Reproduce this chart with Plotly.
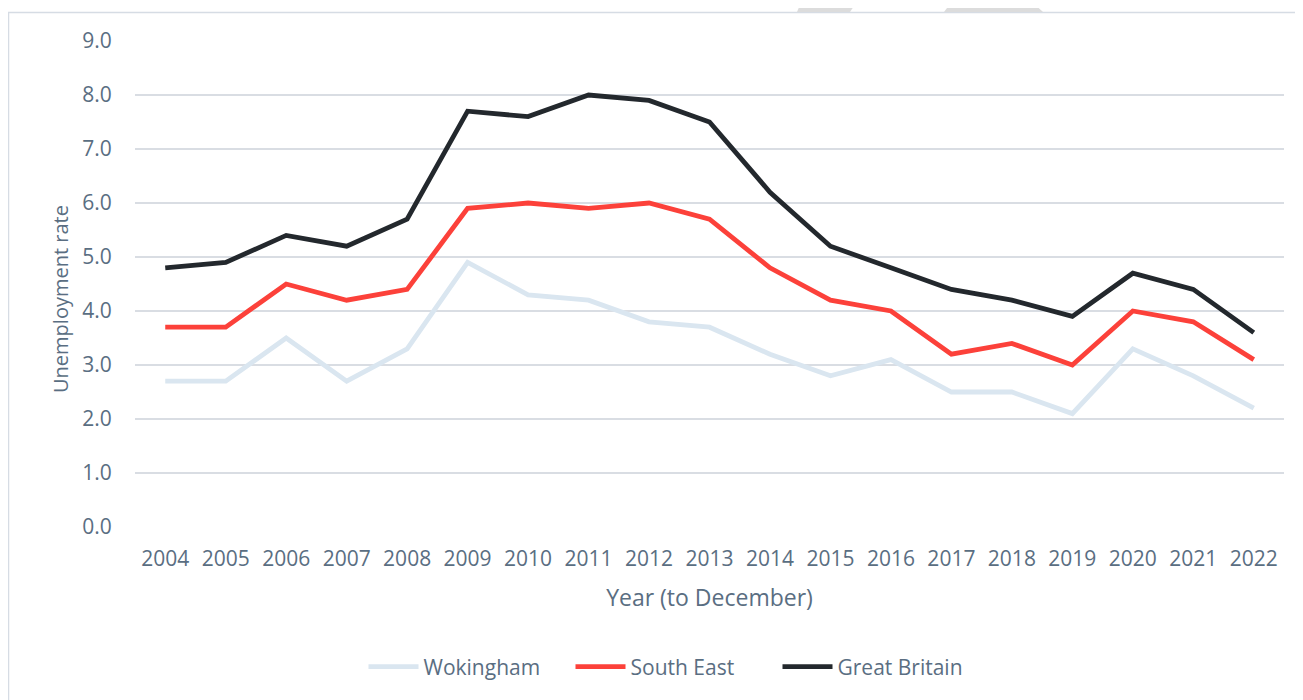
import plotly.graph_objects as go

years = [str(y) for y in range(2004, 2023)]
wokingham = [2.7, 2.7, 3.5, 2.7, 3.3, 4.9, 4.3, 4.2, 3.8, 3.7, 3.2, 2.8, 3.1, 2.5, 2.5, 2.1, 3.3, 2.8, 2.2]
south_east = [3.7, 3.7, 4.5, 4.2, 4.4, 5.9, 6.0, 5.9, 6.0, 5.7, 4.8, 4.2, 4.0, 3.2, 3.4, 3.0, 4.0, 3.8, 3.1]
great_britain = [4.8, 4.9, 5.4, 5.2, 5.7, 7.7, 7.6, 8.0, 7.9, 7.5, 6.2, 5.2, 4.8, 4.4, 4.2, 3.9, 4.7, 4.4, 3.6]

series = [
    ("Wokingham", wokingham, "#dae6f0"),
    ("South East", south_east, "#fc413a"),
    ("Great Britain", great_britain, "#23282d"),
]

fig = go.Figure()
for name, vals, col in series:
    fig.add_trace(go.Scatter(x=years, y=vals, name=name, mode="lines",
                             line=dict(color=col, width=4.8)))

OFF = 8  # page body margin
FW, FH = 1303 - OFF, 700 - OFF
# plot area in figure px
L, R, T, B = 135 - OFF, 1284 - OFF, 41 - OFF, 527 - OFF
W, H = R - L, B - T
def px(x): return (x - OFF - L) / W   # x in reference page px
def py(y): return (B - (y - OFF)) / H

txt = "#5a6e82"
shapes = [
    dict(type="rect", xref="paper", yref="paper",
         x0=px(8.5), x1=px(1400), y0=py(12.5), y1=py(760),
         line=dict(color="#d6dce4", width=1.5), fillcolor="rgba(0,0,0,0)", layer="below"),
    dict(type="path", xref="paper", yref="paper",
         path=f"M {px(797)} {py(12)} L {px(802)} {py(0)} L {px(858)} {py(0)} L {px(850)} {py(12)} Z",
         fillcolor="#dcdcdc", line=dict(width=0), layer="below"),
    dict(type="path", xref="paper", yref="paper",
         path=f"M {px(944)} {py(12)} L {px(953)} {py(0)} L {px(1030)} {py(0)} L {px(1043)} {py(12)} Z",
         fillcolor="#dcdcdc", line=dict(width=0), layer="below"),
]

fig.update_layout(
    width=FW, height=FH,
    margin=dict(l=L, r=FW - R, t=T, b=FH - B, autoexpand=False),
    paper_bgcolor="white", plot_bgcolor="white",
    font=dict(family="Open Sans", color=txt, size=21),
    showlegend=True,
    legend=dict(orientation="h", x=px(674), xanchor="center", y=py(667), yanchor="middle",
                font=dict(size=21, color=txt), tracegroupgap=0,
                itemwidth=50, entrywidth=142, entrywidthmode="pixels"),
    shapes=shapes,
    annotations=[dict(text="Unemployment rate", xref="paper", yref="paper",
                      x=px(60), y=py(299), xanchor="center", yanchor="middle",
                      textangle=-90, showarrow=False, font=dict(size=20, color=txt))],
    xaxis=dict(type="category", range=[-0.5, len(years) - 0.5],
               showgrid=False, zeroline=False, showline=False,
               ticks="outside", ticklen=13, tickcolor="rgba(0,0,0,0)",
               tickfont=dict(size=21, color=txt),
               title=dict(text="Year (to December)", font=dict(size=23, color=txt), standoff=18)),
    yaxis=dict(range=[0, 9], dtick=1, tickformat=".1f", showgrid=True,
               gridcolor="#d9dde3", gridwidth=1.5, zeroline=False, showline=False,
               ticks="outside", ticklen=18, tickcolor="rgba(0,0,0,0)",
               tickfont=dict(size=21, color=txt)),
)
fig.write_html("out.html")
